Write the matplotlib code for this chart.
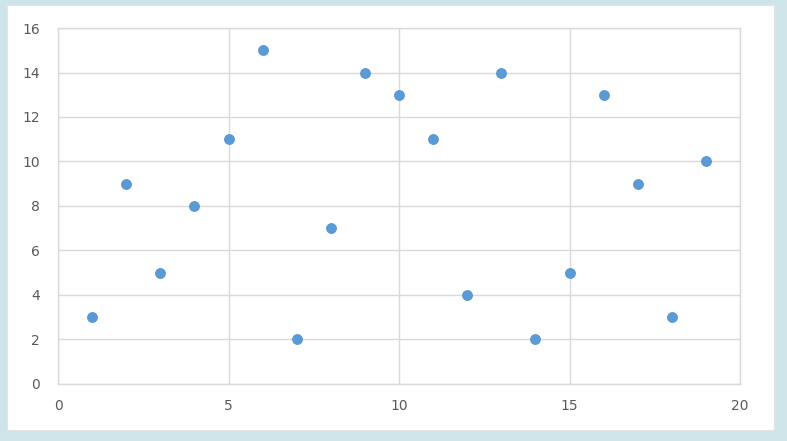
import matplotlib
matplotlib.use("Agg")
import matplotlib.pyplot as plt
from matplotlib.patches import Rectangle

# Data
xVals = [1, 2, 3, 4, 5, 6, 7, 8, 9, 10, 11, 12, 13, 14, 15, 16, 17, 18, 19]
yVals = [3, 9, 5, 8, 11, 15, 2, 7, 14, 13, 11, 4, 14, 2, 5, 13, 9, 3, 10]
xTicks = [0, 5, 10, 15, 20]
yTicks = [0, 2, 4, 6, 8, 10, 12, 14, 16]

# Figure with light blue surround and white chart panel
fig = plt.figure(figsize=(7.87, 4.41), dpi=100)
fig.patch.set_facecolor("#cfe4e9")
fig.patches.append(Rectangle((0.009, 0.025), 0.975, 0.964, transform=fig.transFigure,
                             facecolor="white", edgecolor="#e4e4e4", linewidth=0.8, zorder=-1))

ax = fig.add_axes([0.0737, 0.1293, 0.8666, 0.8072])
ax.set_facecolor("white")

# Points
ax.scatter(xVals, yVals, s=52, color="#5b9bd5", edgecolors="#4f8fcc", linewidths=0.5, zorder=3)

# Axes limits and ticks
ax.set_xlim(0, 20)
ax.set_ylim(0, 16)
ax.set_xticks(xTicks)
ax.set_yticks(yTicks)
ax.tick_params(length=0, colors="#595959", labelsize=10)
ax.tick_params(axis="x", pad=11)
ax.tick_params(axis="y", pad=13)

# Gridlines and frame
ax.grid(True, color="#d9d9d9", linewidth=1.0)
ax.set_axisbelow(True)
for spine in ax.spines.values():
    spine.set_color("#d9d9d9")
    spine.set_linewidth(1.0)

fig.savefig("out.png", dpi=100, facecolor=fig.get_facecolor())
